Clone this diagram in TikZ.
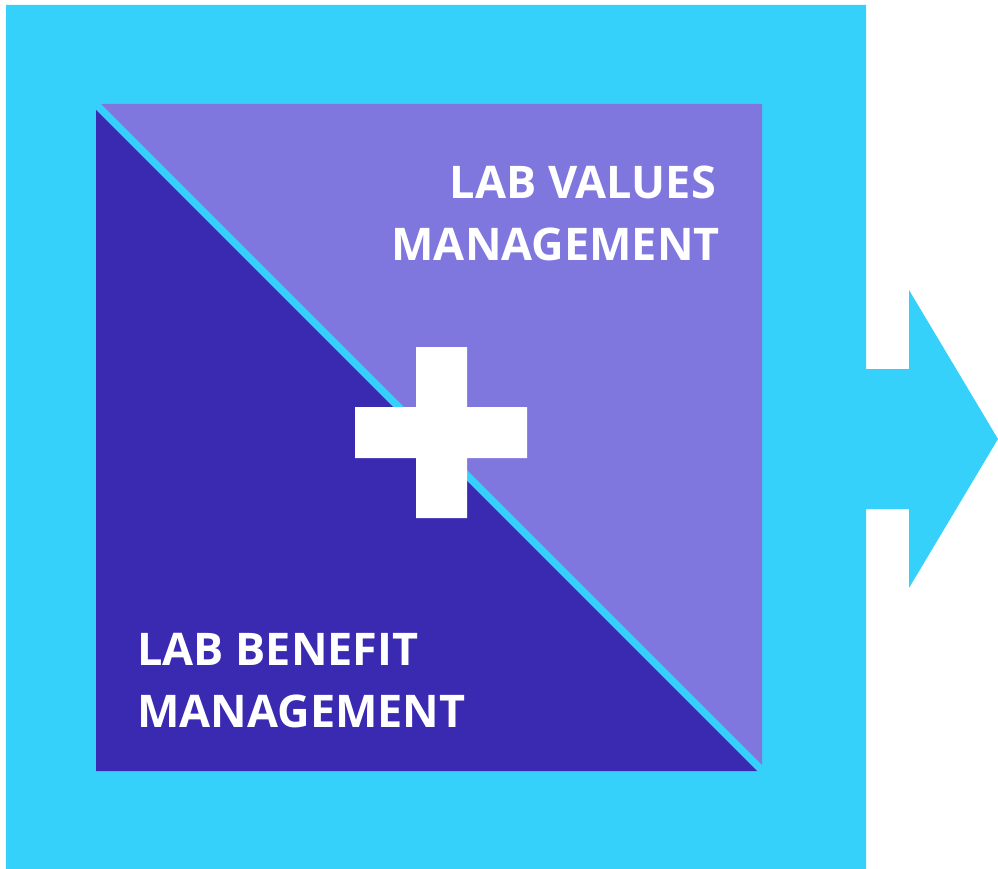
\documentclass[tikz,border=0pt]{standalone}
\usepackage{fontspec}
\setmainfont{Open Sans}
\definecolor{sky}{RGB}{54,209,250}
\definecolor{lilac}{RGB}{127,118,222}
\definecolor{indigo}{RGB}{58,42,178}
\begin{document}
\begin{tikzpicture}[x=1pt,y=-1pt,
  lbl/.style={text=white,font=\fontsize{45}{54}\selectfont\bfseries,inner sep=0pt}]
\useasboundingbox (0,0) rectangle (998,869);
% outer frame with arrow
\fill[sky] (6,5) -- (866,5) -- (866,369) -- (909,369) -- (909,290) -- (998,439)
  -- (909,588) -- (909,509) -- (866,509) -- (866,869) -- (6,869) -- cycle;
% inner halves
\fill[indigo] (96,110) -- (96,771) -- (757,771) -- cycle;
\fill[lilac] (101,104) -- (762,104) -- (762,765) -- cycle;
% plus sign
\fill[white] (416,347) -- (467,347) -- (467,407) -- (527,407) -- (527,458)
  -- (467,458) -- (467,518) -- (416,518) -- (416,458) -- (355,458)
  -- (355,407) -- (416,407) -- cycle;
% labels
\node[lbl,anchor=base east] (valA) at (716,199) {LAB VALUES};
\node[lbl,anchor=base east] (valB) at (720,260) {MANAGEMENT};
\node[lbl,anchor=base west] (benA) at (137,665) {LAB BENEFIT};
\node[lbl,anchor=base west] (benB) at (137,727) {MANAGEMENT};
\end{tikzpicture}
\end{document}
